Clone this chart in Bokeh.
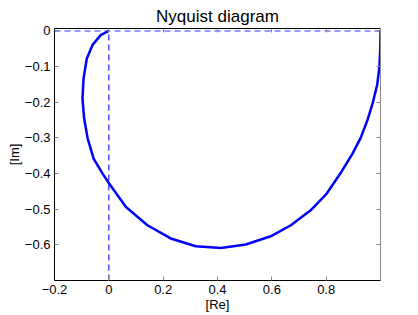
from bokeh.plotting import figure
from bokeh.models import Range1d, FixedTicker, LinearAxis, Title
from bokeh.embed import file_html
from bokeh.resources import INLINE

# Nyquist curve, from omega=0 (1,0) to omega=inf (0,0)
re_vals = [1.0, 0.999, 0.996, 0.988, 0.972, 0.952, 0.927, 0.897, 0.852,
           0.802, 0.743, 0.670, 0.596, 0.504, 0.412, 0.320, 0.228, 0.142,
           0.063, 0.001, -0.023, -0.056, -0.078, -0.091, -0.097, -0.093,
           -0.081, -0.060, -0.029, 0.0]
im_vals = [0.0, -0.050, -0.100, -0.150, -0.200, -0.250, -0.300, -0.344, -0.400,
           -0.456, -0.503, -0.545, -0.576, -0.599, -0.609, -0.604,
           -0.582, -0.545, -0.494, -0.428, -0.400, -0.358, -0.301, -0.245,
           -0.189, -0.133, -0.077, -0.039, -0.011, 0.0]

# dashed reference lines
hline_x = [-0.2, 1.0]
hline_y = [0.0, 0.0]
vline_x = [0.0, 0.0]
vline_y = [-0.7, 0.0]

x_ticks = [-0.2, 0.0, 0.2, 0.4, 0.6, 0.8]
x_labels = ["\u22120.2", "0", "0.2", "0.4", "0.6", "0.8"]
y_ticks = [0.0, -0.1, -0.2, -0.3, -0.4, -0.5, -0.6]
y_labels = ["0", "\u22120.1", "\u22120.2", "\u22120.3", "\u22120.4", "\u22120.5", "\u22120.6"]

FONT = "Liberation Sans"

p = figure(width=418, height=315, output_backend="svg",
           toolbar_location=None, x_range=Range1d(-0.2, 1.0),
           y_range=Range1d(-0.7, 0.007), min_border_left=54, min_border_right=38,
           min_border_top=28, min_border_bottom=35)
p.title = Title(text="Nyquist diagram", align="center", text_font=FONT,
                text_font_size="17px", text_font_style="normal", text_color="black",
                standoff=5)
p.outline_line_color = None
p.grid.visible = False
p.background_fill_color = "white"
p.border_fill_color = "white"

p.xaxis.ticker = FixedTicker(ticks=x_ticks)
p.xaxis.major_label_overrides = dict(zip(x_ticks, x_labels))
p.yaxis.ticker = FixedTicker(ticks=y_ticks)
p.yaxis.major_label_overrides = dict(zip(y_ticks, y_labels))
p.xaxis.axis_label = "[Re]"
p.yaxis.axis_label = "[Im]"

for ax in (p.xaxis[0], p.yaxis[0]):
    ax.major_tick_in = 4
    ax.major_tick_out = 0
    ax.minor_tick_in = 0
    ax.minor_tick_out = 0
    ax.axis_line_color = "black"
    ax.major_tick_line_color = "#888888"
    ax.major_label_text_font = FONT
    ax.major_label_text_font_size = "13px"
    ax.major_label_text_color = "black"
    ax.axis_label_text_font = FONT
    ax.axis_label_text_font_size = "13px"
    ax.axis_label_text_font_style = "normal"
    ax.axis_label_text_color = "black"
    ax.major_label_standoff = 4
    ax.axis_label_standoff = 0

top = LinearAxis(ticker=FixedTicker(ticks=x_ticks),
                 major_label_overrides={t: "" for t in x_ticks},
                 major_label_text_font_size="2px",
                 major_tick_in=4, major_tick_out=0, minor_tick_in=0, minor_tick_out=0,
                 major_label_standoff=0,
                 axis_line_color="black", major_tick_line_color="#888888")
right = LinearAxis(ticker=FixedTicker(ticks=y_ticks),
                   major_label_overrides={t: "" for t in y_ticks},
                   major_label_text_font_size="2px",
                   major_tick_in=4, major_tick_out=0, minor_tick_in=0, minor_tick_out=0,
                   major_label_standoff=0,
                   axis_line_color="#888888", major_tick_line_color="#888888")
p.add_layout(top, "above")
p.add_layout(right, "right")

p.line(hline_x, hline_y, line_color="#3333ff", line_width=1.2, line_dash="6 4")
p.line(vline_x, vline_y, line_color="#2222ff", line_width=1.2, line_dash="6 4")
p.line(re_vals, im_vals, line_color="#0000ff", line_width=2.5)

open("out.html", "w").write(file_html(p, INLINE))
